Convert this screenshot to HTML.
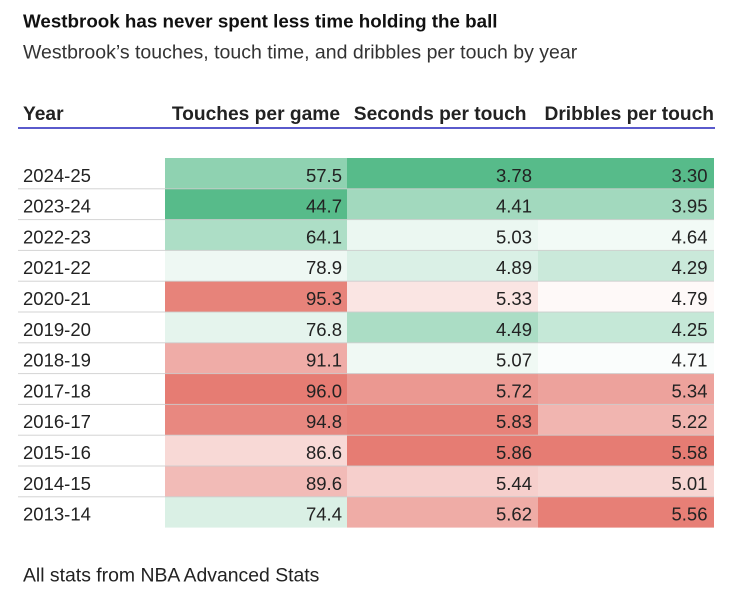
<!DOCTYPE html>
<html>
<head>
<meta charset="utf-8">
<style>
html,body{margin:0;padding:0;background:#fff;}
svg{display:block;}
text{font-family:"Liberation Sans",Arial,sans-serif;}
</style>
</head>
<body>
<svg width="750" height="591" viewBox="0 0 750 591" xmlns="http://www.w3.org/2000/svg">
<rect x="0" y="0" width="750" height="591" fill="#fff"/>
<text x="23" y="27.5" font-size="18.8" font-weight="bold" fill="#111">Westbrook has never spent less time holding the ball</text>
<text x="23" y="58.5" font-size="19.5" fill="#333">Westbrook’s touches, touch time, and dribbles per touch by year</text>

<text x="23" y="120" font-size="19.2" font-weight="bold" fill="#222">Year</text>
<text x="340" y="120" font-size="19.2" font-weight="bold" fill="#222" text-anchor="end">Touches per game</text>
<text x="526.5" y="120" font-size="19.2" font-weight="bold" fill="#222" text-anchor="end">Seconds per touch</text>
<text x="714" y="120" font-size="19.2" font-weight="bold" fill="#222" text-anchor="end">Dribbles per touch</text>
<rect x="18" y="127" width="697" height="2" fill="#5a5acc"/>

<g>
<rect x="165" y="158" width="182" height="30.8" fill="rgb(143,210,177)"/>
<rect x="347" y="158" width="191" height="30.8" fill="rgb(87,187,138)"/>
<rect x="538" y="158" width="176" height="30.8" fill="rgb(87,187,138)"/>

<rect x="165" y="188.8" width="182" height="30.8" fill="rgb(87,187,138)"/>
<rect x="347" y="188.8" width="191" height="30.8" fill="rgb(162,217,190)"/>
<rect x="538" y="188.8" width="176" height="30.8" fill="rgb(162,217,190)"/>

<rect x="165" y="219.6" width="182" height="30.8" fill="rgb(173,222,198)"/>
<rect x="347" y="219.6" width="191" height="30.8" fill="rgb(235,247,241)"/>
<rect x="538" y="219.6" width="176" height="30.8" fill="rgb(242,250,246)"/>

<rect x="165" y="250.4" width="182" height="30.8" fill="rgb(238,248,243)"/>
<rect x="347" y="250.4" width="191" height="30.8" fill="rgb(218,240,230)"/>
<rect x="538" y="250.4" width="176" height="30.8" fill="rgb(202,233,218)"/>

<rect x="165" y="281.2" width="182" height="30.8" fill="rgb(231,131,122)"/>
<rect x="347" y="281.2" width="191" height="30.8" fill="rgb(250,229,227)"/>
<rect x="538" y="281.2" width="176" height="30.8" fill="rgb(254,249,248)"/>

<rect x="165" y="312" width="182" height="30.8" fill="rgb(229,244,237)"/>
<rect x="347" y="312" width="191" height="30.8" fill="rgb(171,221,197)"/>
<rect x="538" y="312" width="176" height="30.8" fill="rgb(197,232,215)"/>

<rect x="165" y="342.8" width="182" height="30.8" fill="rgb(239,172,167)"/>
<rect x="347" y="342.8" width="191" height="30.8" fill="rgb(240,249,244)"/>
<rect x="538" y="342.8" width="176" height="30.8" fill="rgb(250,253,252)"/>

<rect x="165" y="373.6" width="182" height="30.8" fill="rgb(230,124,115)"/>
<rect x="347" y="373.6" width="191" height="30.8" fill="rgb(235,152,145)"/>
<rect x="538" y="373.6" width="176" height="30.8" fill="rgb(237,162,156)"/>

<rect x="165" y="404.4" width="182" height="30.8" fill="rgb(232,136,128)"/>
<rect x="347" y="404.4" width="191" height="30.8" fill="rgb(231,130,121)"/>
<rect x="538" y="404.4" width="176" height="30.8" fill="rgb(241,181,176)"/>

<rect x="165" y="435.2" width="182" height="30.8" fill="rgb(248,217,214)"/>
<rect x="347" y="435.2" width="191" height="30.8" fill="rgb(230,124,115)"/>
<rect x="538" y="435.2" width="176" height="30.8" fill="rgb(230,124,115)"/>

<rect x="165" y="466" width="182" height="30.8" fill="rgb(242,187,183)"/>
<rect x="347" y="466" width="191" height="30.8" fill="rgb(246,207,204)"/>
<rect x="538" y="466" width="176" height="30.8" fill="rgb(247,214,211)"/>

<rect x="165" y="496.8" width="182" height="30.8" fill="rgb(218,240,229)"/>
<rect x="347" y="496.8" width="191" height="30.8" fill="rgb(239,172,166)"/>
<rect x="538" y="496.8" width="176" height="30.8" fill="rgb(231,127,118)"/>
</g>

<g fill="#cccccc" opacity="0.85">
<rect x="18" y="188.3" width="696" height="1"/>
<rect x="18" y="219.1" width="696" height="1"/>
<rect x="18" y="249.9" width="696" height="1"/>
<rect x="18" y="280.7" width="696" height="1"/>
<rect x="18" y="311.5" width="696" height="1"/>
<rect x="18" y="342.3" width="696" height="1"/>
<rect x="18" y="373.1" width="696" height="1"/>
<rect x="18" y="403.9" width="696" height="1"/>
<rect x="18" y="434.7" width="696" height="1"/>
<rect x="18" y="465.5" width="696" height="1"/>
<rect x="18" y="496.3" width="696" height="1"/>
</g>

<g font-size="18.5" fill="#222">
<text x="23" y="181.8">2024-25</text>
<text x="23" y="212.6">2023-24</text>
<text x="23" y="243.4">2022-23</text>
<text x="23" y="274.2">2021-22</text>
<text x="23" y="305">2020-21</text>
<text x="23" y="335.8">2019-20</text>
<text x="23" y="366.6">2018-19</text>
<text x="23" y="397.4">2017-18</text>
<text x="23" y="428.2">2016-17</text>
<text x="23" y="459">2015-16</text>
<text x="23" y="489.8">2014-15</text>
<text x="23" y="520.6">2013-14</text>
</g>
<g font-size="18.5" fill="#222" text-anchor="end">
<text x="342" y="181.8">57.5</text>
<text x="342" y="212.6">44.7</text>
<text x="342" y="243.4">64.1</text>
<text x="342" y="274.2">78.9</text>
<text x="342" y="305">95.3</text>
<text x="342" y="335.8">76.8</text>
<text x="342" y="366.6">91.1</text>
<text x="342" y="397.4">96.0</text>
<text x="342" y="428.2">94.8</text>
<text x="342" y="459">86.6</text>
<text x="342" y="489.8">89.6</text>
<text x="342" y="520.6">74.4</text>
</g>
<g font-size="18.5" fill="#222" text-anchor="end">
<text x="532" y="181.8">3.78</text>
<text x="532" y="212.6">4.41</text>
<text x="532" y="243.4">5.03</text>
<text x="532" y="274.2">4.89</text>
<text x="532" y="305">5.33</text>
<text x="532" y="335.8">4.49</text>
<text x="532" y="366.6">5.07</text>
<text x="532" y="397.4">5.72</text>
<text x="532" y="428.2">5.83</text>
<text x="532" y="459">5.86</text>
<text x="532" y="489.8">5.44</text>
<text x="532" y="520.6">5.62</text>
</g>
<g font-size="18.5" fill="#222" text-anchor="end">
<text x="707.5" y="181.8">3.30</text>
<text x="707.5" y="212.6">3.95</text>
<text x="707.5" y="243.4">4.64</text>
<text x="707.5" y="274.2">4.29</text>
<text x="707.5" y="305">4.79</text>
<text x="707.5" y="335.8">4.25</text>
<text x="707.5" y="366.6">4.71</text>
<text x="707.5" y="397.4">5.34</text>
<text x="707.5" y="428.2">5.22</text>
<text x="707.5" y="459">5.58</text>
<text x="707.5" y="489.8">5.01</text>
<text x="707.5" y="520.6">5.56</text>
</g>

<text x="23" y="581.5" font-size="19.4" fill="#222">All stats from NBA Advanced Stats</text>
</svg>
</body>
</html>
